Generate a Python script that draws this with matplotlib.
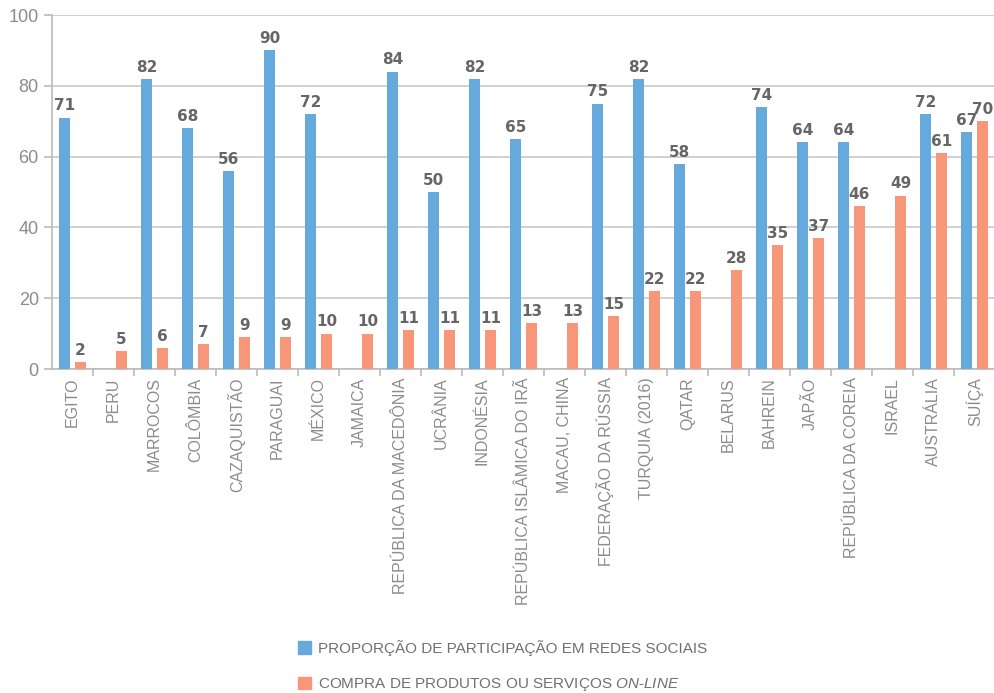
import numpy as np
import matplotlib
matplotlib.use("Agg")
import matplotlib.pyplot as plt
from matplotlib.patches import Patch

plt.rcParams['font.family'] = ['Liberation Sans', 'DejaVu Sans']
plt.rcParams['mathtext.fontset'] = 'custom'
plt.rcParams['mathtext.it'] = 'Liberation Sans:italic'

paises = ['EGITO', 'PERU', 'MARROCOS', 'COLÔMBIA', 'CAZAQUISTÃO', 'PARAGUAI', 'MÉXICO',
          'JAMAICA', 'REPÚBLICA DA MACEDÔNIA', 'UCRÂNIA', 'INDONÉSIA',
          'REPÚBLICA ISLÂMICA DO IRÃ', 'MACAU, CHINA', 'FEDERAÇÃO DA RÚSSIA',
          'TURQUIA (2016)', 'QATAR', 'BELARUS', 'BAHREIN', 'JAPÃO',
          'REPÚBLICA DA COREIA', 'ISRAEL', 'AUSTRÁLIA', 'SUÍÇA']
redes = [71, np.nan, 82, 68, 56, 90, 72, np.nan, 84, 50, 82, 65, np.nan, 75, 82, 58,
         np.nan, 74, 64, 64, np.nan, 72, 67]
compra = [2, 5, 6, 7, 9, 9, 10, 10, 11, 11, 11, 13, 13, 15, 22, 22, 28, 35, 37, 46, 49, 61, 70]

azul = '#66a9dc'
laranja = '#f79679'
cinza = '#8c8c8c'

fig = plt.figure(figsize=(9.95, 6.93), dpi=100)
ax = fig.add_axes([52/995, (693-369)/693, (995-52)/995, 354/693])

x = np.arange(len(paises))
w = 0.29
off = 0.195
ax.bar(x - off, redes, w, color=azul, zorder=3)
ax.bar(x + off, compra, w, color=laranja, zorder=3)

for xi, v in zip(x, redes):
    if not np.isnan(v):
        ax.annotate(str(int(v)), (xi - off, v), xytext=(0, 3), textcoords='offset points',
                    ha='center', va='bottom', fontsize=11, fontweight='bold',
                    color='#666666', family='DejaVu Sans')
for xi, v in zip(x, compra):
    ax.annotate(str(int(v)), (xi + off, v), xytext=(0, 3), textcoords='offset points',
                ha='center', va='bottom', fontsize=11, fontweight='bold',
                color='#666666', family='DejaVu Sans')

ax.set_xlim(-0.5, len(paises) - 0.5)
ax.set_ylim(0, 100)
ax.set_yticks([0, 20, 40, 60, 80, 100])
ax.yaxis.grid(True, color='#c8c8c8', linewidth=1.2, zorder=0)
ax.tick_params(axis='y', colors='#bbbbbb', labelcolor=cinza, labelsize=13, length=6, width=1.2)

ax.set_xticks(x)
ax.set_xticklabels(paises, rotation=90, fontsize=11.5, color=cinza)
ax.tick_params(axis='x', length=0, pad=6)
ax.set_xticks(np.arange(0.5, len(paises) - 0.5), minor=True)
ax.tick_params(axis='x', which='minor', length=5, width=1.2, color='#bbbbbb')

for s in ['top', 'right']:
    ax.spines[s].set_visible(False)
for s in ['left', 'bottom']:
    ax.spines[s].set_color('#bbbbbb')
    ax.spines[s].set_linewidth(1.2)

handles = [Patch(color=azul), Patch(color=laranja)]
labels = ['PROPORÇÃO DE PARTICIPAÇÃO EM REDES SOCIAIS',
          r'COMPRA DE PRODUTOS OU SERVIÇOS $\mathit{ON}$-$\mathit{LINE}$']
leg = fig.legend(handles, labels, loc='upper left', bbox_to_anchor=(284/995, 1 - 626/693),
                 frameon=False, fontsize=11, labelcolor='#707070', handlelength=0.9,
                 handleheight=0.9, handletextpad=0.4, labelspacing=1.35)

fig.savefig('out.png', dpi=100)
